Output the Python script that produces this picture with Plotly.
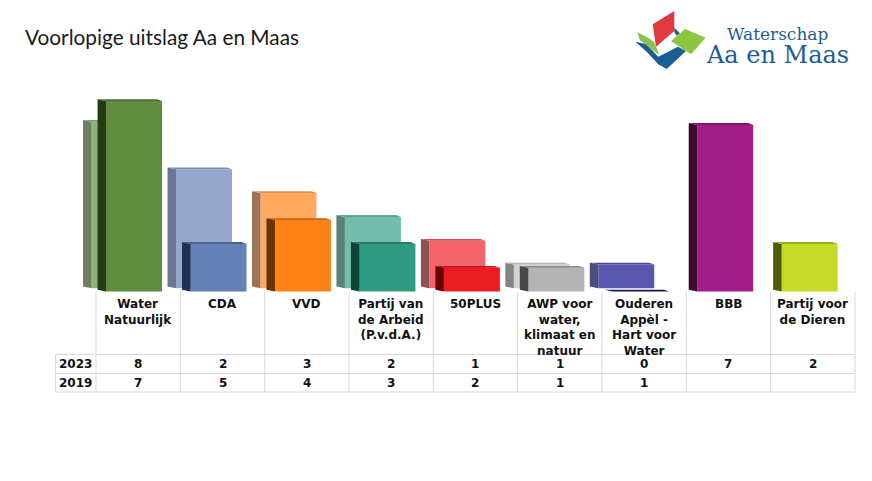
import plotly.graph_objects as go


W = 872
H = 481

partyLabels = ["Water<br>Natuurlijk", "CDA", "VVD", "Partij van<br>de Arbeid<br>(P.v.d.A.)", "50PLUS",
               "AWP voor<br>water,<br>klimaat en<br>natuur", "Ouderen<br>Appèl -<br>Hart voor<br>Water",
               "BBB", "Partij voor<br>de Dieren"]
seats2023 = [8, 2, 3, 2, 1, 1, 0, 7, 2]
seats2019 = [7, 5, 4, 3, 2, 1, 1, None, None]

front2023 = ["#5f8c3f", "#6480b6", "#ff8217", "#2f9c81", "#ed1c24", "#b3b3b3", "#1b1b66", "#a31d87", "#c6db27"]
side2023 = ["#233a12", "#222f52", "#6b3203", "#0c4436", "#63060a", "#484848", "#1b1b66", "#3c0a33", "#4f5a0a"]
cap2023 = ["#4a6e30", "#4e6490", "#c96512", "#247a65", "#b9161c", "#8c8c8c", "#14144f", "#801668", "#9bac1e"]

front2019 = ["#8fb077", "#94a8cc", "#ffa95f", "#74bdab", "#f4636a", "#d2d2d2", "#5b57b0", "#ffffff", "#ffffff"]
side2019 = ["#6c7f60", "#6d7690", "#9c7355", "#5a8379", "#8f5156", "#858585", "#4e4b7f", "#ffffff", "#ffffff"]
cap2019 = ["#7a9a63", "#7c90b4", "#dc9150", "#62a392", "#d25157", "#b4b4b4", "#4c4994", "#ffffff", "#ffffff"]

# pixel layout of the table and the fake 3d bars
colW = 84.33
barStep = 84.45
tableLeft = 96
baseY = 291.5
seatPx = 23.8
barW = 56
sideW = 8.5
depthY = 1.8
capInset = 5


def px(x):
    return x / W


def py(y):
    return 1 - y / H


def pxPath(points):
    cmds = ["%s %.4f %.4f" % ("M" if i == 0 else "L", px(p[0]), py(p[1])) for i, p in enumerate(points)]
    return " ".join(cmds) + " Z"


def addBars(fig, values, shiftPx, liftPx, front, side, cap, xa, ya):
    dx = 1 / colW
    dy = 1 / seatPx
    lift = liftPx * dy
    idx = [i for i, v in enumerate(values) if v is not None]
    for i in idx:
        center = (i * barStep + shiftPx) * dx
        left = center - barW / 2 * dx
        right = center + barW / 2 * dx
        top = values[i] * 1.0 + lift
        # side face
        fig.add_trace(go.Scatter(
            x=[left - sideW * dx, left, left, left - sideW * dx],
            y=[top + depthY * dy, top, lift, lift + depthY * dy],
            fill="toself", mode="lines", line=dict(width=0), fillcolor=side[i],
            showlegend=False, hoverinfo="skip", xaxis=xa, yaxis=ya))
        # top face
        fig.add_trace(go.Scatter(
            x=[left - sideW * dx, right - capInset * dx, right, left],
            y=[top + depthY * dy, top + depthY * dy, top, top],
            fill="toself", mode="lines", line=dict(width=0), fillcolor=cap[i],
            showlegend=False, hoverinfo="skip", xaxis=xa, yaxis=ya))
    fig.add_trace(go.Bar(
        x=[(i * barStep + shiftPx) * dx for i in idx],
        y=[values[i] for i in idx],
        base=lift,
        width=barW * dx,
        marker=dict(color=[front[i] for i in idx], line=dict(width=0)),
        showlegend=False, hoverinfo="y", xaxis=xa, yaxis=ya))


fig = go.Figure()

addBars(fig, seats2019, -18.6, 3.2, front2019, side2019, cap2019, "x", "y")
addBars(fig, seats2023, -4.1, 0, front2023, side2023, cap2023, "x2", "y2")

xRange = [(0 - tableLeft) / colW - 0.5, (W - tableLeft) / colW - 0.5]
yRange = [-(H - baseY) / seatPx, baseY / seatPx]
hidden = dict(visible=False, fixedrange=True)

fig.update_layout(
    width=W,
    height=H,
    margin=dict(l=0, r=0, t=0, b=0),
    paper_bgcolor="white",
    plot_bgcolor="white",
    barmode="overlay",
    showlegend=False,
    xaxis=dict(range=xRange, domain=[0, 1], **hidden),
    yaxis=dict(range=yRange, domain=[0, 1], **hidden),
    xaxis2=dict(range=xRange, domain=[0, 1], overlaying="x", **hidden),
    yaxis2=dict(range=yRange, domain=[0, 1], overlaying="y", **hidden),
)

# table grid
gridColor = "#d9d9d9"
for i in range(10):
    xLine = (tableLeft + i * colW) / W
    fig.add_shape(type="line", xref="paper", yref="paper", x0=xLine, x1=xLine, y0=py(292), y1=py(392),
                  line=dict(color=gridColor, width=1))
fig.add_shape(type="line", xref="paper", yref="paper", x0=px(55.5), x1=px(55.5), y0=py(354.5), y1=py(392),
              line=dict(color=gridColor, width=1))
for yLine in [354.5, 373.5, 392]:
    fig.add_shape(type="line", xref="paper", yref="paper", x0=px(55.5), x1=px(855), y0=py(yLine), y1=py(yLine),
                  line=dict(color=gridColor, width=1))

tableFont = dict(family="DejaVu Sans", size=12, color="#111111")
for i, label in enumerate(partyLabels):
    fig.add_annotation(x=i, y=py(296), xref="x", yref="paper", xanchor="center", yanchor="top", showarrow=False,
                       text="<b>%s</b>" % label, font=tableFont, align="center", borderpad=0)
    fig.add_annotation(x=i, y=py(364), xref="x", yref="paper", xanchor="center", yanchor="middle", showarrow=False,
                       text="<b>%s</b>" % seats2023[i], font=tableFont, borderpad=0)
    if seats2019[i] is not None:
        fig.add_annotation(x=i, y=py(383), xref="x", yref="paper", xanchor="center", yanchor="middle", showarrow=False,
                           text="<b>%s</b>" % seats2019[i], font=tableFont, borderpad=0)

fig.add_annotation(x=px(75.5), y=py(364), xref="paper", yref="paper", xanchor="center", yanchor="middle",
                   showarrow=False, text="<b>2023</b>", font=tableFont, borderpad=0)
fig.add_annotation(x=px(75.5), y=py(383), xref="paper", yref="paper", xanchor="center", yanchor="middle",
                   showarrow=False, text="<b>2019</b>", font=tableFont, borderpad=0)

# title
fig.add_annotation(x=px(24), y=py(37), xref="paper", yref="paper", xanchor="left", yanchor="middle", showarrow=False,
                   text="Voorlopige uitslag Aa en Maas", font=dict(family="Lato", size=20.8, color="#1a1a1a"),
                   borderpad=0)

# logo
logoBlue = "#1b5e93"
logoShapes = [
    ([(635.3, 41.7), (646.7, 44.3), (658.3, 56.7), (678, 46.7), (686, 51), (666.7, 69), (658.3, 64.3), (646.7, 51.7)],
     logoBlue),
    ([(674.3, 27.7), (680, 33.3), (676.7, 35.7), (674.3, 32)], logoBlue),
    ([(637.3, 32.3), (648, 37.7), (654, 41.7), (659.3, 55), (648.3, 46.7), (640, 40)], "#8cc152"),
    ([(652.7, 24.3), (674.3, 11), (674.3, 31), (656, 46.7)], "#e0393e"),
    ([(671, 41), (685, 29), (705.7, 37.7), (691, 54.3)], "#8cc63f"),
]
for points, colour in logoShapes:
    fig.add_shape(type="path", xref="paper", yref="paper", path=pxPath(points),
                  fillcolor=colour, line=dict(width=0))

fig.add_annotation(x=px(777.5), y=py(34), xref="paper", yref="paper", xanchor="center", yanchor="middle",
                   showarrow=False, text="Waterschap", font=dict(family="DejaVu Serif", size=17, color=logoBlue),
                   borderpad=0)
fig.add_annotation(x=px(777.5), y=py(55), xref="paper", yref="paper", xanchor="center", yanchor="middle",
                   showarrow=False, text="Aa en Maas", font=dict(family="DejaVu Serif", size=24, color=logoBlue),
                   borderpad=0)

# page margin would push the figure 8px off
fig.write_html("out.html", config=dict(displayModeBar=False), post_script="document.body.style.margin='0';")
